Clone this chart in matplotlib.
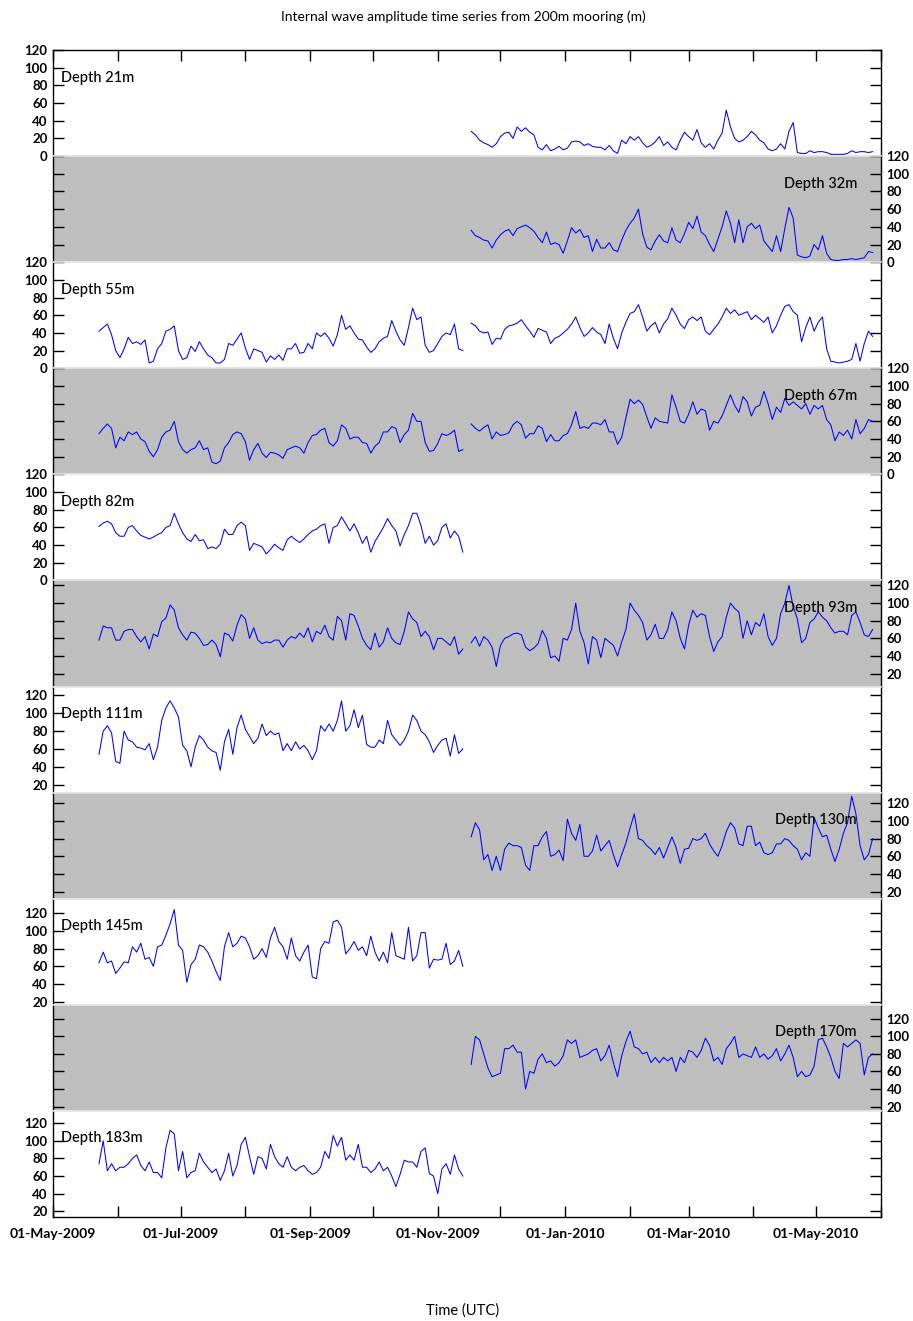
import numpy as np
import pandas as pd
import matplotlib
matplotlib.use("Agg")
import matplotlib.pyplot as plt
import matplotlib.dates as mdates
from matplotlib.ticker import FuncFormatter

# ---------------------------------------------------------------------------
# Internal wave amplitude (m), two-day samples for the two mooring deployments
# ---------------------------------------------------------------------------
DEPLOY1_START = "2009-05-23"
DEPLOY2_START = "2009-11-17"
STEP_DAYS = 2

depths = [21, 32, 55, 67, 82, 93, 111, 130, 145, 170, 183]

amp21_d2 = [28, 24, 18, 15, 13, 10, 14, 22, 26, 27, 20, 33, 28, 32, 27, 24, 10, 7, 13, 6,
            8, 11, 7, 9, 16, 17, 16, 12, 14, 11, 10, 10, 7, 12, 6, 3, 18, 14, 22, 18,
            22, 15, 10, 12, 16, 22, 12, 16, 10, 7, 18, 27, 22, 18, 30, 15, 10, 14, 8, 18,
            26, 52, 33, 20, 16, 18, 22, 28, 24, 18, 15, 8, 6, 8, 14, 8, 28, 38, 4, 3,
            3, 6, 4, 5, 5, 4, 2, 2, 2, 2, 3, 6, 4, 5, 5, 4, 5]

amp32_d2 = [36, 30, 28, 25, 24, 16, 25, 31, 35, 37, 30, 38, 40, 42, 39, 35, 28, 22, 34, 20,
            22, 20, 10, 24, 39, 33, 37, 28, 30, 12, 26, 16, 16, 22, 14, 12, 25, 36, 44, 50,
            60, 32, 17, 14, 24, 31, 24, 22, 39, 25, 22, 32, 45, 38, 52, 34, 30, 20, 12, 26,
            40, 58, 44, 22, 48, 22, 40, 44, 38, 42, 24, 18, 12, 30, 12, 38, 62, 50, 8, 6,
            5, 7, 20, 14, 30, 10, 3, 2, 2, 3, 3, 4, 3, 4, 5, 12, 11]

amp55_d1 = [42, 46, 50, 38, 20, 12, 22, 35, 28, 30, 27, 32, 6, 8, 22, 28, 42, 44, 48, 20,
            10, 12, 25, 19, 30, 22, 15, 12, 6, 6, 10, 28, 26, 33, 40, 23, 10, 22, 20, 18,
            7, 14, 10, 15, 9, 22, 22, 28, 17, 18, 28, 22, 40, 36, 40, 34, 25, 38, 60, 44,
            48, 40, 33, 32, 24, 18, 22, 30, 34, 36, 54, 42, 32, 26, 46, 68, 55, 58, 26, 18,
            20, 28, 36, 40, 38, 50, 22, 20]
amp55_d2 = [51, 48, 42, 40, 41, 27, 34, 33, 44, 48, 49, 51, 55, 48, 42, 35, 45, 43, 41, 28,
            34, 36, 40, 44, 50, 58, 46, 36, 40, 46, 41, 38, 28, 50, 34, 22, 40, 52, 62, 64,
            72, 58, 42, 48, 52, 40, 50, 56, 68, 60, 50, 45, 55, 58, 54, 58, 42, 38, 44, 50,
            58, 68, 62, 66, 60, 62, 64, 55, 60, 56, 52, 58, 40, 48, 60, 70, 72, 64, 60, 30,
            46, 58, 42, 52, 58, 22, 8, 7, 6, 7, 8, 10, 28, 8, 28, 42, 36]

amp67_d1 = [46, 52, 57, 52, 30, 42, 38, 48, 45, 48, 40, 37, 26, 20, 28, 42, 48, 50, 60, 37,
            28, 24, 28, 30, 38, 28, 30, 14, 12, 15, 30, 36, 45, 48, 46, 37, 16, 28, 35, 24,
            19, 25, 24, 22, 18, 28, 30, 32, 30, 24, 36, 44, 45, 50, 52, 36, 32, 38, 56, 52,
            40, 42, 42, 36, 35, 24, 32, 36, 48, 48, 54, 52, 36, 45, 50, 69, 60, 60, 36, 26,
            27, 35, 46, 44, 46, 50, 26, 28]
amp67_d2 = [57, 52, 49, 53, 56, 40, 48, 44, 45, 47, 56, 60, 56, 41, 46, 46, 55, 52, 37, 45,
            38, 38, 44, 46, 56, 71, 52, 54, 52, 58, 58, 56, 62, 48, 48, 34, 42, 64, 85, 80,
            84, 79, 65, 52, 64, 60, 59, 58, 90, 76, 60, 58, 68, 82, 68, 74, 72, 50, 60, 58,
            66, 78, 90, 78, 70, 88, 82, 66, 76, 78, 94, 80, 62, 76, 70, 86, 78, 82, 78, 74,
            80, 68, 78, 74, 78, 62, 56, 38, 48, 44, 50, 40, 62, 46, 52, 62, 60]

amp82_d1 = [61, 65, 67, 64, 54, 50, 50, 60, 62, 56, 51, 49, 47, 49, 52, 54, 60, 62, 76, 64,
            54, 47, 44, 52, 45, 46, 36, 38, 36, 41, 58, 52, 52, 62, 66, 62, 34, 42, 40, 38,
            30, 35, 41, 37, 34, 46, 50, 46, 43, 47, 52, 56, 58, 62, 64, 42, 60, 62, 72, 64,
            56, 64, 54, 42, 50, 32, 44, 52, 60, 70, 62, 56, 39, 52, 62, 76, 76, 62, 42, 50,
            40, 45, 60, 64, 48, 56, 50, 32]

amp93_d1 = [58, 74, 72, 72, 58, 58, 68, 70, 70, 62, 56, 62, 48, 65, 62, 79, 83, 98, 92, 72,
            64, 58, 67, 66, 60, 52, 53, 58, 53, 39, 66, 64, 57, 75, 87, 82, 60, 72, 58, 54,
            56, 55, 58, 58, 50, 58, 62, 60, 66, 61, 72, 56, 68, 65, 75, 62, 58, 85, 80, 58,
            88, 86, 74, 60, 52, 47, 66, 50, 56, 72, 60, 55, 53, 68, 90, 82, 78, 62, 68, 62,
            47, 60, 60, 56, 52, 62, 42, 48]
amp93_d2 = [55, 62, 51, 62, 58, 50, 28, 52, 60, 62, 65, 66, 64, 50, 46, 49, 54, 69, 60, 38,
            40, 34, 60, 58, 70, 100, 68, 55, 31, 62, 58, 38, 60, 56, 52, 40, 56, 70, 100, 92,
            86, 78, 58, 64, 76, 60, 60, 70, 90, 80, 60, 48, 75, 92, 84, 88, 86, 62, 45, 56,
            62, 84, 100, 94, 90, 60, 80, 64, 78, 74, 88, 62, 52, 60, 88, 100, 120, 96, 82, 55,
            60, 78, 82, 90, 84, 80, 72, 66, 68, 68, 64, 86, 90, 78, 64, 62, 70]

amp111_d1 = [54, 80, 86, 78, 46, 44, 80, 70, 68, 62, 61, 59, 66, 48, 62, 92, 106, 114, 106, 96,
             64, 58, 40, 62, 75, 70, 62, 58, 56, 36, 68, 82, 54, 84, 98, 82, 74, 66, 72, 88,
             75, 80, 76, 78, 58, 66, 58, 68, 60, 64, 58, 48, 58, 86, 80, 88, 80, 92, 114, 80,
             86, 104, 84, 98, 65, 62, 62, 70, 66, 92, 76, 70, 64, 70, 80, 98, 92, 80, 76, 68,
             56, 64, 70, 72, 52, 76, 55, 60]

amp130_d2 = [82, 98, 90, 56, 62, 44, 60, 44, 68, 75, 72, 72, 70, 50, 44, 72, 72, 82, 88, 60,
             62, 67, 55, 102, 86, 78, 96, 60, 60, 66, 84, 66, 72, 78, 62, 48, 62, 75, 92, 108,
             80, 78, 72, 68, 62, 70, 58, 70, 82, 70, 52, 68, 69, 80, 78, 80, 86, 74, 66, 60,
             72, 88, 98, 92, 74, 72, 94, 94, 72, 76, 64, 62, 64, 74, 74, 80, 78, 72, 68, 56,
             64, 60, 104, 92, 82, 84, 68, 54, 68, 86, 98, 128, 108, 72, 56, 62, 80]

amp145_d1 = [64, 76, 64, 66, 52, 58, 65, 64, 82, 76, 86, 68, 70, 60, 82, 84, 95, 108, 124, 84,
             78, 42, 62, 68, 84, 82, 76, 66, 54, 44, 82, 98, 82, 86, 94, 92, 82, 68, 72, 80,
             70, 92, 104, 88, 82, 68, 92, 72, 66, 76, 84, 48, 46, 80, 88, 86, 110, 112, 104, 74,
             80, 88, 78, 82, 72, 94, 76, 66, 76, 64, 98, 72, 70, 68, 104, 66, 72, 98, 98, 58,
             68, 67, 68, 86, 62, 66, 78, 60]

amp170_d2 = [68, 100, 96, 80, 64, 54, 56, 58, 86, 86, 90, 82, 82, 40, 60, 58, 74, 80, 70, 72,
             66, 70, 78, 96, 92, 96, 76, 78, 80, 84, 86, 72, 78, 90, 70, 54, 78, 94, 106, 88,
             86, 80, 82, 70, 76, 70, 76, 72, 76, 60, 76, 70, 84, 82, 76, 84, 98, 90, 72, 76,
             68, 86, 92, 100, 76, 80, 78, 76, 88, 76, 80, 74, 78, 86, 72, 80, 90, 76, 54, 60,
             54, 56, 66, 96, 98, 88, 76, 60, 52, 92, 88, 92, 96, 92, 56, 76, 80]

amp183_d1 = [74, 100, 66, 74, 66, 70, 70, 74, 80, 84, 72, 66, 76, 64, 64, 58, 92, 112, 108, 66,
             88, 58, 64, 66, 86, 76, 70, 64, 68, 55, 66, 86, 60, 72, 96, 104, 82, 62, 82, 80,
             68, 96, 82, 74, 70, 82, 70, 66, 70, 72, 66, 62, 64, 70, 88, 80, 106, 94, 104, 78,
             84, 78, 96, 70, 70, 64, 68, 76, 66, 70, 60, 48, 62, 78, 76, 76, 70, 88, 92, 63,
             60, 40, 68, 74, 62, 84, 68, 60]

series = {
    21: (None, amp21_d2),
    32: (None, amp32_d2),
    55: (amp55_d1, amp55_d2),
    67: (amp67_d1, amp67_d2),
    82: (amp82_d1, None),
    93: (amp93_d1, amp93_d2),
    111: (amp111_d1, None),
    130: (None, amp130_d2),
    145: (amp145_d1, None),
    170: (None, amp170_d2),
    183: (amp183_d1, None),
}

# vertical extent of each panel (m)
ylims = {21: (0, 120), 32: (0, 120), 55: (0, 120), 67: (0, 120), 82: (0, 120),
         93: (5.3, 125.7), 111: (11, 130), 130: (12, 132), 145: (16.6, 136.2),
         170: (15, 136), 183: (13.5, 134)}

title = "Internal wave amplitude time series from 200m mooring (m)"
xlabel = "Time (UTC)"

# ---------------------------------------------------------------------------
FONT = "Lato"
plt.rcParams["font.family"] = [FONT, "DejaVu Sans"]

W, H = 913, 1321
fig = plt.figure(figsize=(W / 100, H / 100), dpi=100)

x0, x1 = 53 / W, 881 / W
ytop, ybot = 1 - 50 / H, 1 - 1217 / H
n = len(depths)
ph = (ytop - ybot) / n

tmin = pd.Timestamp("2009-05-01")
tmax = pd.Timestamp("2010-06-01")

GRAY = "#bebebe"
EDGE = "#e4e4e4"
LINE = "#0000ff"


def times(start, vals):
    return pd.date_range(start, periods=len(vals), freq=f"{STEP_DAYS}D")


def month_label(x, pos):
    d = mdates.num2date(x)
    return d.strftime("%d-%b-%Y") if d.month % 2 == 1 else ""


for i, depth in enumerate(depths):
    ax = fig.add_axes([x0, ytop - (i + 1) * ph, x1 - x0, ph])
    shaded = i % 2 == 1
    ax.set_facecolor(GRAY if shaded else "white")

    d1, d2 = series[depth]
    if d1 is not None:
        ax.plot(times(DEPLOY1_START, d1), d1, color=LINE, lw=0.75)
    if d2 is not None:
        ax.plot(times(DEPLOY2_START, d2), d2, color=LINE, lw=0.75)

    ax.set_xlim(tmin, tmax)
    lo, hi = ylims[depth]
    ax.set_ylim(lo, hi)
    ax.set_yticks([v for v in range(0, 121, 20) if lo - 0.5 <= v <= hi + 0.5])

    ax.tick_params(axis="y", direction="in", length=8, width=1, left=True, right=True,
                   labelleft=not shaded, labelright=shaded, pad=4, labelsize=9.5)
    for lab in ax.get_yticklabels():
        lab.set_fontweight("bold")

    ax.xaxis.set_major_locator(mdates.MonthLocator())
    ax.xaxis.set_major_formatter(FuncFormatter(month_label))
    ax.tick_params(axis="x", direction="in", length=8, width=1,
                   top=(i == 0), bottom=(i == n - 1),
                   labeltop=False, labelbottom=(i == n - 1), pad=8, labelsize=10)
    if i == n - 1:
        for lab in ax.get_xticklabels():
            lab.set_fontweight("bold")

    for side in ("left", "right"):
        ax.spines[side].set_color("black")
        ax.spines[side].set_linewidth(1)
    # outer frame in black, faint seams between stacked panels
    ax.spines["top"].set_color("black" if i == 0 else EDGE)
    ax.spines["bottom"].set_color("black" if i == n - 1 else EDGE)
    ax.spines["top"].set_linewidth(1 if i == 0 else 1.2)
    ax.spines["bottom"].set_linewidth(1 if i == n - 1 else 1.2)

    label = f"Depth {depth}m"
    if shaded:
        ax.text(0.971, 0.74, label, transform=ax.transAxes, ha="right", va="center",
                fontsize=10.5, color="black", fontweight="medium")
    else:
        ax.text(0.0097, 0.74, label, transform=ax.transAxes, ha="left", va="center",
                fontsize=10.5, color="black", fontweight="medium")

fig.text(463 / W, 1 - 17 / H, title, ha="center", va="center", fontsize=10)
fig.text(463 / W, 1 - 1311 / H, xlabel, ha="center", va="center", fontsize=10.5)

fig.savefig("out.png", dpi=100)
